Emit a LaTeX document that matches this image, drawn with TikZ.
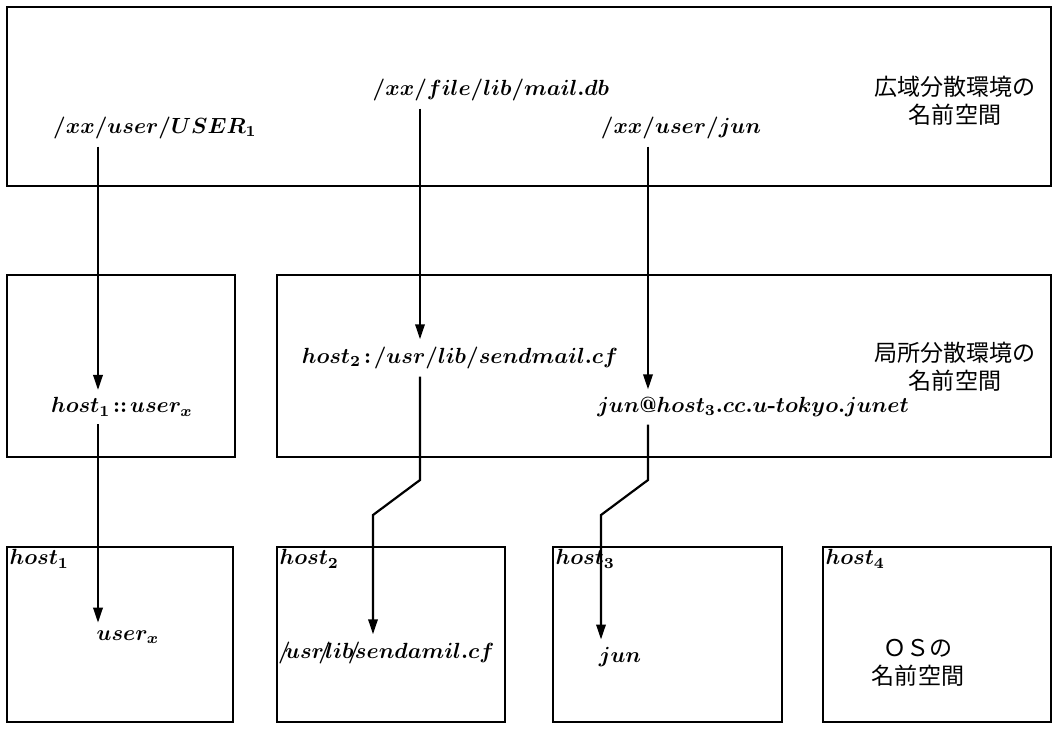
\documentclass[tikz,border=0pt]{standalone}
\usepackage{fontspec}
\newfontfamily\jpfont{Noto Sans CJK JP}
\usetikzlibrary{arrows.meta}
\newcommand{\tightsl}{\mkern-4mu/\mkern-4mu}
\tikzset{
  box/.style={line width=1pt},
  pathtxt/.style={font=\boldmath\normalsize},
  nslabel/.style={font=\jpfont\fontsize{10.5}{12.7}\selectfont, align=center},
  hostlbl/.style={font=\boldmath\normalsize, anchor=north west, inner sep=1pt},
  link/.style={line width=1pt, -{Triangle[length=2.4mm,width=1.5mm]}},
}
\begin{document}
\begin{tikzpicture}[x=0.016cm, y=-0.016cm]
  \useasboundingbox (0,0) rectangle (1061,732);
  % namespaces
  \draw[box] (7,7) rectangle (1051,186);
  \draw[box] (7,275) rectangle (235,457);
  \draw[box] (277,275) rectangle (1051,457);
  \draw[box] (7,547) rectangle (233,722);
  \draw[box] (277,547) rectangle (505,722);
  \draw[box] (553,547) rectangle (782,722);
  \draw[box] (823,547) rectangle (1051,722);
  \node[nslabel] (gLabel) at (955,101) {広域分散環境の\\名前空間};
  \node[nslabel] (lLabel) at (955,367) {局所分散環境の\\名前空間};
  \node[nslabel] (osLabel) at (918,663) {ＯＳの\\名前空間};
  \node[hostlbl] (h1) at (7,547) {$host_1$};
  \node[hostlbl] (h2) at (277,547) {$host_2$};
  \node[hostlbl] (h3) at (553,547) {$host_3$};
  \node[hostlbl] (h4) at (823,547) {$host_4$};
  % names
  \node[pathtxt] (wUser) at (155,128) {$/xx/user/USER_1$};
  \node[pathtxt] (wMail) at (491,90) {$/xx/file/lib/mail.db$};
  \node[pathtxt] (wJun) at (681,128) {$/xx/user/jun$};
  \node[pathtxt] (lUser) at (122,407) {$host_1\!::\!user_x$};
  \node[pathtxt] (lMail) at (460,358) {$host_2\!:\!/usr/lib/sendmail.cf$};
  \node[pathtxt] (lJun) at (753,407) {$jun@host_3.cc.u\mbox{\bfseries -}tokyo.junet$};
  \node[pathtxt] (oUser) at (128,637) {$user_x$};
  \node[pathtxt] (oMail) at (389,653) {$\tightsl usr\tightsl lib\tightsl sendamil.cf$};
  \node[pathtxt] (oJun) at (620,657) {$jun$};
  % mappings
  \coordinate (a1) at (98,0);
  \coordinate (a2) at (420,0);
  \coordinate (b2) at (373,0);
  \coordinate (a3) at (648,0);
  \coordinate (b3) at (601,0);
  \coordinate (k2a) at (420,480);
  \coordinate (k2b) at (373,515);
  \coordinate (k3a) at (648,480);
  \coordinate (k3b) at (601,515);
  \draw[link] (wUser.south -| a1) -- (lUser.north -| a1);
  \draw[link] (lUser.south -| a1) -- (oUser.north -| a1);
  \draw[link] (wMail.south -| a2) -- (lMail.north -| a2);
  \draw[link] (lMail.south -| a2) -- (k2a) -- (k2b) -- (oMail.north -| b2);
  \draw[link] (wJun.south -| a3) -- (lJun.north -| a3);
  \draw[link] (lJun.south -| a3) -- (k3a) -- (k3b) -- (oJun.north -| b3);
\end{tikzpicture}
\end{document}
